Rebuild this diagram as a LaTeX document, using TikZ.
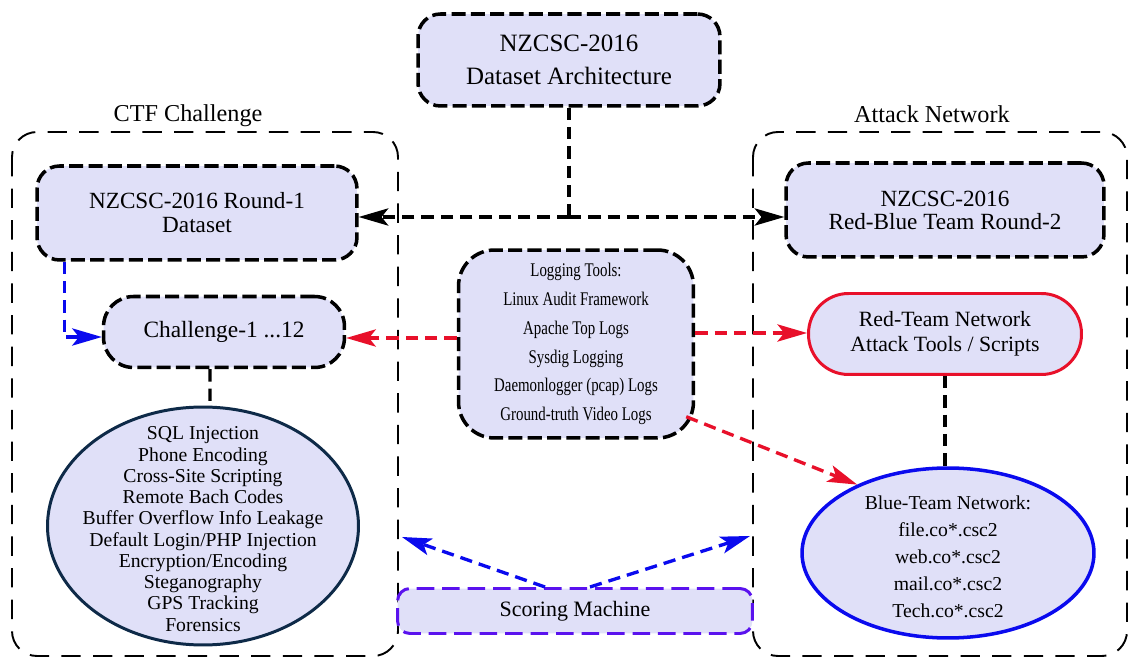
\documentclass[tikz,border=0pt]{standalone}
\usepackage{fontspec}
\setmainfont{Liberation Serif}
\newfontfamily\condserif[FakeStretch=0.77]{Liberation Serif}
\usetikzlibrary{arrows.meta,shapes.geometric}

\definecolor{boxfill}{HTML}{E0E0F8}
\definecolor{redline}{HTML}{E8102A}
\definecolor{blueline}{HTML}{0A0AEE}
\definecolor{violetline}{HTML}{5A12EE}
\definecolor{navyline}{HTML}{0E2A48}

\tikzset{
  frame/.style={draw=black, line width=1.1pt, dash pattern=on 11pt off 7pt, rounded corners=0.5cm},
  grouplabel/.style={font=\fontsize{13.8}{16}\selectfont, inner sep=0pt},
  dbox/.style={draw=black, line width=2pt, dash pattern=on 8pt off 3pt, fill=boxfill,
               rounded corners=#1, align=center, inner sep=0pt},
  conn/.style={line width=1.9pt, dash pattern=on 7pt off 4pt},
  tip/.style={-{Stealth[length=17pt,width=10pt,inset=4pt,line width=0pt]}},
  plain/.style={align=center, inner sep=0pt}
}

\begin{document}
\begin{tikzpicture}[x=0.02cm, y=-0.02cm]
  \useasboundingbox (0,0) rectangle (1130,658);

  % group frames
  \draw[frame] (12,132) rectangle (398,656);
  \draw[frame] (753,132) rectangle (1127,656);
  \node[grouplabel] (ctflabel) at (188,116) {CTF Challenge};
  \node[grouplabel] (atklabel) at (932,114) {Attack Network};

  % boxes
  \node[dbox=0.45cm, minimum width=6.04cm, minimum height=1.84cm,
        font=\fontsize{14.2}{19}\selectfont] (title) at (569,60)
        {NZCSC-2016\\Dataset Architecture};
  \node[dbox=0.45cm, minimum width=6.4cm, minimum height=1.88cm,
        font=\fontsize{13.2}{13.6}\selectfont] (r1) at (197,213)
        {NZCSC-2016 Round-1\\Dataset};
  \node[dbox=0.45cm, minimum width=6.36cm, minimum height=1.88cm,
        font=\fontsize{13.2}{13}\selectfont] (rb) at (945,210)
        {NZCSC-2016\\Red-Blue Team Round-2};
  \node[dbox=0.6cm, minimum width=4.82cm, minimum height=1.42cm,
        font=\fontsize{13.3}{15}\selectfont] (chal) at (224,332)
        {Challenge-1 ...12};
  \node[dbox=0.72cm, minimum width=4.7cm, minimum height=3.76cm,
        font=\condserif\fontsize{11}{16.4}\selectfont] (log) at (576,344)
        {Logging Tools:\\Linux Audit Framework\\Apache Top Logs\\Sysdig Logging\\Daemonlogger (pcap) Logs\\Ground-truth Video Logs};
  \node[draw=redline, line width=1.7pt, fill=boxfill, rounded corners=0.8cm,
        minimum width=5.46cm, minimum height=1.62cm, plain,
        font=\fontsize{12.4}{14.2}\selectfont] (red) at (945,334)
        {Red-Team Network\\Attack Tools / Scripts};
  \node[ellipse, draw=blueline, line width=2pt, fill=boxfill, inner sep=0pt,
        minimum width=5.84cm, minimum height=3.4cm] (blue) at (948,553) {};
  \node[plain, font=\fontsize{11.2}{15.3}\selectfont] (bluetext) at (948,557)
        {Blue-Team Network:\\file.co*.csc2\\web.co*.csc2\\mail.co*.csc2\\Tech.co*.csc2};
  \node[ellipse, draw=navyline, line width=1.7pt, fill=boxfill, inner sep=0pt,
        minimum width=6.22cm, minimum height=4.76cm] (lell) at (203,526) {};
  \node[plain, font=\fontsize{11.2}{12.1}\selectfont] (lelltext) at (203,529)
        {SQL Injection\\Phone Encoding\\Cross-Site Scripting\\Remote Bach Codes\\Buffer Overflow Info Leakage\\Default Login/PHP Injection\\Encryption/Encoding\\Steganography\\GPS Tracking\\Forensics};
  \node[draw=violetline, line width=1.7pt, dash pattern=on 10pt off 4.5pt,
        fill=boxfill, rounded corners=0.25cm, minimum width=7.1cm,
        minimum height=0.9cm, plain, font=\fontsize{12.5}{14}\selectfont]
        (score) at (575,611) {Scoring Machine};

  % connectors
  \coordinate (tj) at (569,217);
  \draw[conn] (title.south) -- (tj);
  \draw[conn, tip] (tj) -- (tj -| r1.east);
  \draw[conn, tip] (tj) -- (tj -| rb.west);

  \coordinate (bstart) at ([xshift=0.58cm]r1.south west);
  \coordinate (bend) at ([yshift=-0.1cm]chal.west);
  \draw[conn, draw=blueline, tip, blueline] (bstart) |- (bend);

  \coordinate (lw) at ([yshift=0.12cm]log.west);
  \draw[conn, draw=redline, tip, redline] (lw) -- (chal.east |- lw);
  \coordinate (le) at ([yshift=0.22cm]log.east);
  \draw[conn, draw=redline, tip, redline] (le) -- (red.west |- le);
  \coordinate (lse) at ([xshift=-0.18cm, yshift=0.46cm]log.south east);
  \draw[conn, draw=redline, tip, redline] (lse) -- (blue.143);

  \draw[conn] (red.south) -- (red.south |- blue.north);
  \draw[conn] ([xshift=-0.28cm]chal.south) -- ([xshift=0.14cm]lell.north);

  \coordinate (sl) at (402,537);
  \coordinate (sr) at (750,536);
  \draw[conn, draw=blueline, tip, blueline] ([xshift=-0.6cm]score.north) -- (sl);
  \draw[conn, draw=blueline, tip, blueline] ([xshift=0.3cm]score.north) -- (sr);
\end{tikzpicture}
\end{document}
